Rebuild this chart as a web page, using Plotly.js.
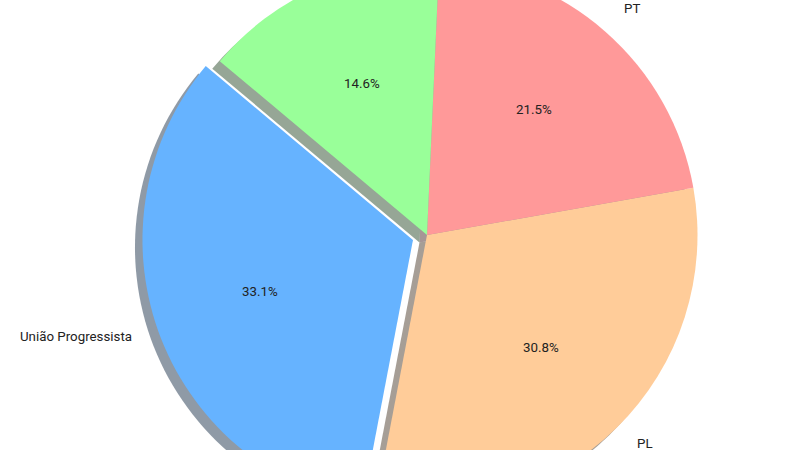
<!DOCTYPE html>
<html>
<head>
<meta charset="utf-8">
<script src="https://cdn.plot.ly/plotly-3.0.1.min.js"></script>
<style>
  html, body { margin: 0; padding: 0; width: 800px; height: 450px; overflow: hidden; background: #fff; }
  #chart { position: absolute; }
</style>
</head>
<body>
<div id="chart"></div>
<script>
// ---- data ----
const labels = ["União Progressista", "PL", "PT", "Outros"];
const values = [33.1, 30.8, 21.5, 14.6];
const colors = ["#66b3ff", "#ffcc99", "#ff9999", "#99ff99"];
const explode = [0.055, 0, 0, 0];

// ---- style / geometry ----
const startAngle = 140;      // degrees, counterclockwise from 3 o'clock
const R = 270.5;             // pie radius in px
const CX = 427, CY = 235;    // pie centre in window px
const shadowOff = 7.5;       // shadow shift (left & down) in px
const pctDist = 0.6, labelDist = 1.1;
const fontFam = "Roboto, 'DejaVu Sans', sans-serif";
const fontSize = 13.3;
const textColor = "#222";
const textLift = 3;          // px

const W = 1100, H = 900;
const L = CX - W / 2, T = CY - H / 2;
const el = document.getElementById('chart');
el.style.left = L + 'px';
el.style.top = T + 'px';
el.style.width = W + 'px';
el.style.height = H + 'px';

const maxPull = Math.max(...explode);
const S = R * (2 + 2 * maxPull);

function domainAt(cxd, cyd) {
  return {
    x: [(cxd - S / 2) / W, (cxd + S / 2) / W],
    y: [1 - (cyd + S / 2) / H, 1 - (cyd - S / 2) / H]
  };
}

const total = values.reduce((a, b) => a + b, 0);
const rotation = 90 - startAngle - 360 * values[0] / total;

function shadowColor(hex) {
  const n = parseInt(hex.slice(1), 16);
  const r = (n >> 16) & 255, g = (n >> 8) & 255, b = n & 255;
  return `rgba(${Math.round(r * 0.3)},${Math.round(g * 0.3)},${Math.round(b * 0.3)},0.5)`;
}

const common = {
  type: 'pie',
  labels: labels,
  values: values,
  sort: false,
  direction: 'counterclockwise',
  rotation: rotation,
  pull: explode,
  textinfo: 'none',
  hoverinfo: 'none',
  showlegend: false
};

const shadowTrace = Object.assign({}, common, {
  marker: { colors: colors.map(shadowColor), line: { width: 0 } },
  domain: domainAt(W / 2 - shadowOff, H / 2 + shadowOff)
});
const mainTrace = Object.assign({}, common, {
  marker: { colors: colors, line: { width: 0 } },
  domain: domainAt(W / 2, H / 2)
});

// text positions computed from the data (matplotlib-style placement)
const annotations = [];
let cum = 0;
values.forEach((v, i) => {
  const mid = (startAngle + 360 * (cum + v / 2) / total) * Math.PI / 180;
  cum += v;
  const ux = Math.cos(mid), uy = Math.sin(mid);
  const ox = W / 2 + explode[i] * R * ux;
  const oy = H / 2 - explode[i] * R * uy;
  const px = ox + pctDist * R * ux, py = oy - pctDist * R * uy;
  annotations.push({
    xref: 'paper', yref: 'paper', x: px / W, y: 1 - py / H,
    xanchor: 'center', yanchor: 'middle', showarrow: false, yshift: textLift,
    text: (100 * v / total).toFixed(1) + '%',
    font: { family: fontFam, size: fontSize, color: textColor }
  });
  const lx = ox + labelDist * R * ux, ly = oy - labelDist * R * uy;
  // the window only shows labels whose anchor falls inside it
  const wy = ly + T - textLift;
  if (wy > -8) {
    annotations.push({
      xref: 'paper', yref: 'paper', x: lx / W, y: 1 - ly / H,
      xanchor: ux < 0 ? 'right' : 'left', yanchor: 'middle', showarrow: false,
      yshift: textLift, text: labels[i], borderpad: 0,
      font: { family: fontFam, size: fontSize, color: textColor }
    });
  }
});

const layout = {
  width: W, height: H,
  margin: { l: 0, r: 0, t: 0, b: 0 },
  paper_bgcolor: '#fff',
  plot_bgcolor: '#fff',
  showlegend: false,
  annotations: annotations
};

Plotly.newPlot(el, [shadowTrace, mainTrace], layout, { staticPlot: true, displayModeBar: false });
</script>
</body>
</html>
